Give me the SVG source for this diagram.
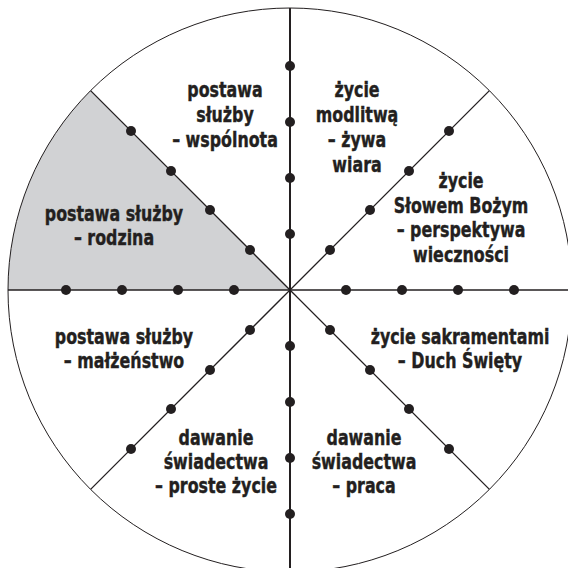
<svg xmlns="http://www.w3.org/2000/svg" width="568" height="568" viewBox="0 0 568 568">
<style>
.lbl{font-family:"DejaVu Sans","Liberation Sans",sans-serif;font-stretch:condensed;font-weight:bold;font-size:21.5px;fill:#231f20;stroke:#231f20;stroke-width:0.4;text-anchor:middle}
.dot{fill:#231f20}
.ln{stroke:#231f20;fill:none}
</style>
<rect width="568" height="568" fill="#ffffff"/>
<path d="M290,290 L8,290 A282,282 0 0,1 90.6,90.6 Z" fill="#d1d2d4"/>
<circle cx="290" cy="290" r="282" class="ln" stroke-width="1"/>
<g id="connectors">
<line class="ln" x1="290" y1="8" x2="290" y2="572" stroke-width="2"/>
<line class="ln" x1="8" y1="290" x2="572" y2="290" stroke-width="1.5"/>
<line class="ln" x1="90.6" y1="90.6" x2="489.4" y2="489.4" stroke-width="1.3"/>
<line class="ln" x1="489.4" y1="90.6" x2="90.6" y2="489.4" stroke-width="1.3"/>
</g>
<g id="dots">
<circle class="dot" cx="290" cy="66" r="5"/><circle class="dot" cx="290" cy="122" r="5"/><circle class="dot" cx="290" cy="178" r="5"/><circle class="dot" cx="290" cy="234" r="5"/>
<circle class="dot" cx="290" cy="346" r="5"/><circle class="dot" cx="290" cy="402" r="5"/><circle class="dot" cx="290" cy="458" r="5"/><circle class="dot" cx="290" cy="514" r="5"/>
<circle class="dot" cx="66" cy="290" r="5"/><circle class="dot" cx="122" cy="290" r="5"/><circle class="dot" cx="178" cy="290" r="5"/><circle class="dot" cx="234" cy="290" r="5"/>
<circle class="dot" cx="346" cy="290" r="5"/><circle class="dot" cx="402" cy="290" r="5"/><circle class="dot" cx="458" cy="290" r="5"/><circle class="dot" cx="514" cy="290" r="5"/>
<circle class="dot" cx="131" cy="131" r="5"/><circle class="dot" cx="171" cy="171" r="5"/><circle class="dot" cx="210" cy="210" r="5"/><circle class="dot" cx="250" cy="250" r="5"/>
<circle class="dot" cx="449" cy="131" r="5"/><circle class="dot" cx="409" cy="171" r="5"/><circle class="dot" cx="370" cy="210" r="5"/><circle class="dot" cx="330" cy="250" r="5"/>
<circle class="dot" cx="131" cy="449" r="5"/><circle class="dot" cx="171" cy="409" r="5"/><circle class="dot" cx="210" cy="370" r="5"/><circle class="dot" cx="250" cy="330" r="5"/>
<circle class="dot" cx="449" cy="449" r="5"/><circle class="dot" cx="409" cy="409" r="5"/><circle class="dot" cx="370" cy="370" r="5"/><circle class="dot" cx="330" cy="330" r="5"/>
</g>
<g id="n1" transform="translate(225 0) scale(0.82 1)"><text class="lbl"><tspan x="0" y="97">postawa</tspan><tspan x="0" y="122">służby</tspan><tspan x="0" y="147">– wspólnota</tspan></text></g>
<g id="n2" transform="translate(357 0) scale(0.82 1)"><text class="lbl"><tspan x="0" y="97">życie</tspan><tspan x="0" y="122">modlitwą</tspan><tspan x="0" y="147">– żywa</tspan><tspan x="0" y="172">wiara</tspan></text></g>
<g id="n3" transform="translate(461 0) scale(0.82 1)"><text class="lbl"><tspan x="0" y="188">życie</tspan><tspan x="0" y="213">Słowem Bożym</tspan><tspan x="0" y="237">– perspektywa</tspan><tspan x="0" y="262">wieczności</tspan></text></g>
<g id="n4" transform="translate(114 0) scale(0.82 1)"><text class="lbl"><tspan x="0" y="221">postawa służby</tspan><tspan x="0" y="245">– rodzina</tspan></text></g>
<g id="n5" transform="translate(124 0) scale(0.82 1)"><text class="lbl"><tspan x="0" y="344">postawa służby</tspan><tspan x="0" y="368">– małżeństwo</tspan></text></g>
<g id="n6" transform="translate(460 0) scale(0.82 1)"><text class="lbl"><tspan x="0" y="344">życie sakramentami</tspan><tspan x="0" y="368">– Duch Święty</tspan></text></g>
<g id="n7" transform="translate(216 0) scale(0.82 1)"><text class="lbl"><tspan x="0" y="445">dawanie</tspan><tspan x="0" y="469">świadectwa</tspan><tspan x="0" y="493">– proste życie</tspan></text></g>
<g id="n8" transform="translate(364 0) scale(0.82 1)"><text class="lbl"><tspan x="0" y="445">dawanie</tspan><tspan x="0" y="469">świadectwa</tspan><tspan x="0" y="493">– praca</tspan></text></g>
</svg>
